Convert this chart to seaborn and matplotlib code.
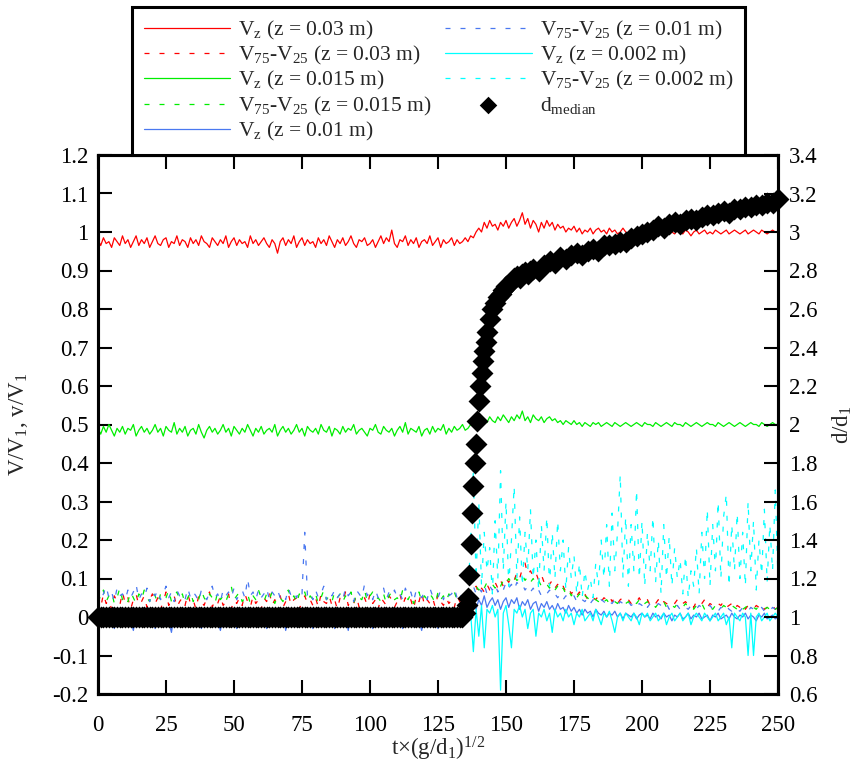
import numpy as np
import pandas as pd
import matplotlib
matplotlib.use("Agg")
import matplotlib.pyplot as plt
import seaborn as sns

# Zeitachse t*(g/d1)^1/2, 1er-Schritte
t_all = np.arange(0, 251, 1)
# cyan erst ab dem Sprung (t = 136)
t_cyan = np.arange(136, 251, 1)

# V_z (z = 0.03 m)
vz_003 = [
    0.98, 0.965, 0.985, 0.97, 0.975, 0.96, 0.985, 0.975, 0.965, 0.99,
    0.97, 0.98, 0.96, 0.975, 0.99, 0.965, 0.98, 0.97, 0.985, 0.96,
    0.975, 0.99, 0.97, 0.965, 0.98, 0.985, 0.96, 0.975, 0.97, 0.99,
    0.965, 0.98, 0.975, 0.96, 0.985, 0.97, 0.98, 0.965, 0.99, 0.975,
    0.97, 0.96, 0.985, 0.975, 0.965, 0.98, 0.97, 0.99, 0.96, 0.975,
    0.985, 0.965, 0.98, 0.97, 0.975, 0.96, 0.99, 0.97, 0.98, 0.965,
    0.975, 0.985, 0.97, 0.96, 0.98, 0.97, 0.945, 0.975, 0.985, 0.965,
    0.98, 0.97, 0.99, 0.96, 0.975, 0.985, 0.965, 0.98, 0.97, 0.975,
    0.96, 0.985, 0.97, 0.98, 0.965, 0.99, 0.975, 0.96, 0.98, 0.97,
    0.985, 0.965, 0.975, 0.99, 0.97, 0.96, 0.98, 0.975, 0.985, 0.965,
    0.97, 0.98, 0.96, 0.975, 0.99, 0.97, 0.985, 0.975, 1.005, 0.97,
    0.96, 0.98, 0.975, 0.99, 0.965, 0.98, 0.97, 0.985, 0.96, 0.975,
    0.98, 0.97, 0.99, 0.965, 0.975, 0.985, 0.96, 0.98, 0.97, 0.975,
    0.985, 0.965, 0.98, 0.97, 0.975, 0.985,
    0.975, 0.99, 0.985, 1.0, 1.01, 1.0, 1.025, 1.01, 1.03, 1.015,
    1.02, 1.005, 1.025, 1.015, 1.03, 1.01, 1.025, 1.035, 1.015, 1.03,
    1.05, 1.02, 1.035, 1.01, 1.03, 1.02, 1.0, 1.025, 1.01, 1.03,
    1.015, 1.025, 1.005, 1.02, 1.01, 1.015, 1.0, 1.01, 1.005, 1.015,
    1.0, 1.01, 0.995, 1.005, 1.0, 1.01, 0.995, 1.005, 1.01, 1.0,
    1.005, 0.995, 1.01, 1.0, 1.005, 0.995, 1.0, 1.01, 1.0, 0.995,
    1.005, 1.0, 0.995, 1.005, 1.0, 1.005, 0.995, 1.0, 1.005, 0.995,
    1.0, 1.005, 0.995, 1.0, 1.005, 1.0, 0.995, 1.005, 1.0, 0.995,
    1.005, 1.0, 0.99, 1.0, 1.005, 0.995, 1.0, 1.005, 0.995, 1.0,
    0.995, 1.005, 1.0, 0.995, 1.0, 1.005, 0.995, 1.0, 1.005, 1.0,
    0.995, 1.0, 1.005, 0.995, 1.0, 1.005, 1.0, 0.995, 1.005, 1.0,
    0.995, 1.0, 1.005, 1.0, 1.0,
]
# V75-V25 (z = 0.03 m)
iqr_003 = [
    0.05, 0.025, 0.06, 0.035, 0.045, 0.02, 0.055, 0.04, 0.03, 0.065,
    0.035, 0.05, 0.02, 0.045, 0.06, 0.03, 0.04, 0.055, 0.025, 0.045,
    0.06, 0.035, 0.05, 0.02, 0.04, 0.065, 0.03, 0.045, 0.055, 0.025,
    0.04, 0.05, 0.03, 0.06, 0.035, 0.045, 0.02, 0.055, 0.04, 0.03,
    0.05, 0.065, 0.025, 0.045, 0.035, 0.055, 0.03, 0.04, 0.06, 0.02,
    0.045, 0.035, 0.05, 0.03, 0.06, 0.04, 0.025, 0.055, 0.035, 0.045,
    0.02, 0.05, 0.04, 0.065, 0.03, 0.045, 0.035, 0.055, 0.025, 0.04,
    0.06, 0.03, 0.045, 0.05, 0.02, 0.04, 0.055, 0.035, 0.045, 0.03,
    0.05, 0.025, 0.06, 0.04, 0.035, 0.055, 0.03, 0.045, 0.02, 0.05,
    0.04, 0.065, 0.03, 0.045, 0.035, 0.055, 0.025, 0.04, 0.05, 0.03,
    0.06, 0.035, 0.045, 0.02, 0.05, 0.04, 0.03, 0.055, 0.045, 0.025,
    0.04, 0.06, 0.03, 0.05, 0.035, 0.045, 0.02, 0.055, 0.04, 0.065,
    0.03, 0.045, 0.035, 0.05, 0.025, 0.06, 0.04, 0.03, 0.05, 0.035,
    0.045, 0.025, 0.055, 0.04, 0.05, 0.035,
    0.05, 0.07, 0.055, 0.08, 0.06, 0.075, 0.065, 0.085, 0.07, 0.08,
    0.09, 0.075, 0.095, 0.08, 0.1, 0.09, 0.105, 0.095, 0.115, 0.1,
    0.125, 0.14, 0.11, 0.12, 0.105, 0.115, 0.095, 0.11, 0.09, 0.1,
    0.085, 0.095, 0.075, 0.085, 0.07, 0.08, 0.065, 0.075, 0.06, 0.07,
    0.055, 0.065, 0.05, 0.06, 0.045, 0.055, 0.05, 0.045, 0.055, 0.04,
    0.05, 0.045, 0.055, 0.04, 0.05, 0.035, 0.045, 0.05, 0.04, 0.045,
    0.035, 0.045, 0.04, 0.05, 0.035, 0.04, 0.045, 0.03, 0.04, 0.035,
    0.045, 0.03, 0.04, 0.035, 0.03, 0.04, 0.035, 0.045, 0.03, 0.035,
    0.04, 0.03, 0.035, 0.025, 0.04, 0.03, 0.035, 0.045, 0.025, 0.035,
    0.03, 0.025, 0.035, 0.03, 0.04, 0.025, 0.03, 0.035, 0.02, 0.03,
    0.025, 0.035, 0.02, 0.03, 0.025, 0.02, 0.03, 0.025, 0.035, 0.02,
    0.025, 0.02, 0.03, 0.02, 0.025,
]
# V_z (z = 0.015 m)
vz_0015 = [
    0.49, 0.475, 0.495, 0.48, 0.5, 0.485, 0.47, 0.49, 0.48, 0.495,
    0.475, 0.49, 0.485, 0.5, 0.47, 0.485, 0.495, 0.48, 0.49, 0.475,
    0.485, 0.5, 0.48, 0.49, 0.47, 0.495, 0.485, 0.48, 0.505, 0.475,
    0.49, 0.48, 0.495, 0.47, 0.485, 0.49, 0.475, 0.5, 0.48, 0.465,
    0.485, 0.495, 0.48, 0.49, 0.475, 0.485, 0.5, 0.48, 0.49, 0.47,
    0.495, 0.485, 0.475, 0.49, 0.48, 0.5, 0.485, 0.47, 0.49, 0.48,
    0.495, 0.475, 0.485, 0.49, 0.48, 0.5, 0.47, 0.485, 0.495, 0.48,
    0.49, 0.475, 0.485, 0.5, 0.48, 0.49, 0.47, 0.495, 0.485, 0.48,
    0.49, 0.475, 0.5, 0.485, 0.48, 0.495, 0.47, 0.49, 0.485, 0.475,
    0.495, 0.48, 0.49, 0.485, 0.5, 0.475, 0.485, 0.49, 0.48, 0.47,
    0.49, 0.485, 0.5, 0.48, 0.475, 0.495, 0.485, 0.48, 0.49, 0.47,
    0.485, 0.495, 0.48, 0.505, 0.475, 0.49, 0.485, 0.48, 0.495, 0.47,
    0.485, 0.49, 0.475, 0.495, 0.48, 0.49, 0.485, 0.5, 0.475, 0.49,
    0.48, 0.495, 0.485, 0.49, 0.5, 0.485,
    0.49, 0.5, 0.505, 0.495, 0.51, 0.5, 0.515, 0.505, 0.52, 0.51,
    0.505, 0.52, 0.51, 0.525, 0.515, 0.505, 0.52, 0.51, 0.525, 0.515,
    0.535, 0.51, 0.52, 0.505, 0.525, 0.515, 0.51, 0.52, 0.505, 0.515,
    0.52, 0.51, 0.515, 0.505, 0.51, 0.5, 0.51, 0.505, 0.5, 0.51,
    0.5, 0.505, 0.495, 0.505, 0.5, 0.495, 0.505, 0.5, 0.505, 0.495,
    0.5, 0.505, 0.5, 0.495, 0.505, 0.5, 0.495, 0.5, 0.505, 0.5,
    0.495, 0.5, 0.505, 0.5, 0.495, 0.505, 0.5, 0.5, 0.495, 0.505,
    0.5, 0.495, 0.5, 0.505, 0.5, 0.495, 0.505, 0.5, 0.5, 0.495,
    0.505, 0.5, 0.495, 0.5, 0.505, 0.5, 0.495, 0.5, 0.505, 0.5,
    0.5, 0.495, 0.505, 0.5, 0.495, 0.5, 0.505, 0.5, 0.495, 0.5,
    0.505, 0.5, 0.495, 0.5, 0.505, 0.5, 0.5, 0.495, 0.505, 0.5,
    0.495, 0.5, 0.505, 0.5, 0.5,
]
# V75-V25 (z = 0.015 m)
iqr_0015 = [
    0.06, 0.045, 0.07, 0.04, 0.055, 0.065, 0.035, 0.05, 0.075, 0.045,
    0.055, 0.04, 0.065, 0.05, 0.035, 0.06, 0.045, 0.07, 0.05, 0.04,
    0.065, 0.055, 0.035, 0.06, 0.045, 0.05, 0.07, 0.04, 0.055, 0.065,
    0.045, 0.06, 0.035, 0.05, 0.065, 0.04, 0.055, 0.045, 0.07, 0.05,
    0.04, 0.06, 0.05, 0.035, 0.065, 0.045, 0.055, 0.04, 0.06, 0.08,
    0.045, 0.055, 0.065, 0.04, 0.05, 0.06, 0.035, 0.055, 0.045, 0.07,
    0.05, 0.04, 0.06, 0.045, 0.065, 0.035, 0.055, 0.05, 0.04, 0.06,
    0.07, 0.045, 0.055, 0.035, 0.06, 0.05, 0.065, 0.04, 0.055, 0.045,
    0.06, 0.035, 0.05, 0.07, 0.045, 0.055, 0.04, 0.065, 0.05, 0.06,
    0.04, 0.055, 0.045, 0.065, 0.035, 0.06, 0.05, 0.045, 0.07, 0.04,
    0.055, 0.065, 0.045, 0.05, 0.04, 0.06, 0.035, 0.055, 0.065, 0.045,
    0.05, 0.04, 0.07, 0.055, 0.045, 0.06, 0.035, 0.05, 0.065, 0.04,
    0.055, 0.045, 0.06, 0.05, 0.035, 0.065, 0.045, 0.055, 0.04, 0.06,
    0.05, 0.065, 0.045, 0.055, 0.04, 0.06,
    0.06, 0.07, 0.065, 0.08, 0.07, 0.085, 0.075, 0.09, 0.08, 0.085,
    0.075, 0.09, 0.08, 0.095, 0.085, 0.1, 0.09, 0.105, 0.095, 0.1,
    0.11, 0.095, 0.105, 0.09, 0.1, 0.085, 0.095, 0.08, 0.09, 0.085,
    0.075, 0.085, 0.07, 0.08, 0.065, 0.075, 0.06, 0.07, 0.055, 0.065,
    0.05, 0.06, 0.045, 0.055, 0.05, 0.04, 0.05, 0.045, 0.04, 0.05,
    0.04, 0.045, 0.035, 0.045, 0.04, 0.035, 0.045, 0.04, 0.035, 0.04,
    0.03, 0.04, 0.035, 0.045, 0.03, 0.035, 0.04, 0.03, 0.035, 0.025,
    0.035, 0.03, 0.04, 0.025, 0.035, 0.03, 0.025, 0.035, 0.03, 0.025,
    0.035, 0.025, 0.03, 0.02, 0.03, 0.025, 0.035, 0.02, 0.03, 0.025,
    0.02, 0.03, 0.025, 0.02, 0.03, 0.025, 0.02, 0.03, 0.025, 0.02,
    0.03, 0.02, 0.025, 0.03, 0.02, 0.025, 0.02, 0.03, 0.025, 0.02,
    0.025, 0.02, 0.03, 0.02, 0.025,
]
# V_z (z = 0.01 m)
vz_001 = [
    0.0, -0.02, 0.01, -0.025, 0.005, -0.01, -0.03, 0.01, -0.015, 0.0,
    -0.02, 0.015, -0.01, -0.035, 0.005, -0.015, 0.01, -0.025, 0.0, -0.01,
    0.01, -0.03, -0.005, 0.015, -0.02, 0.0, -0.01, -0.04, 0.005, -0.015,
    0.01, -0.025, 0.0, -0.01, 0.015, -0.02, -0.005, 0.01, -0.03, 0.0,
    -0.015, 0.005, -0.025, 0.01, -0.01, -0.035, 0.0, 0.015, -0.02, -0.005,
    0.01, -0.03, 0.0, -0.015, 0.005, -0.02, 0.01, -0.01, -0.025, 0.005,
    -0.015, 0.01, -0.03, 0.0, -0.01, 0.015, -0.02, -0.005, 0.01, -0.035,
    0.0, -0.015, 0.01, -0.025, 0.005, -0.01, -0.02, 0.01, -0.005, -0.03,
    0.005, -0.015, 0.01, -0.025, 0.0, -0.01, 0.015, -0.03, -0.005, 0.01,
    -0.02, 0.0, -0.035, 0.005, -0.01, 0.01, -0.025, -0.005, 0.015, -0.02,
    0.0, -0.03, 0.01, -0.015, 0.005, -0.025, -0.005, 0.01, -0.02, 0.0,
    -0.01, 0.015, -0.03, 0.0, -0.015, 0.01, -0.025, 0.005, -0.01, -0.035,
    0.005, -0.015, 0.01, -0.02, 0.0, -0.03, 0.01, -0.01, 0.005, -0.025,
    0.0, -0.015, 0.01, -0.02, 0.0, -0.01,
    0.01, 0.03, 0.05, 0.02, 0.045, 0.03, 0.055, 0.025, 0.04, 0.05,
    0.03, 0.045, 0.02, 0.04, 0.05, 0.025, 0.045, 0.035, 0.05, 0.02,
    0.04, 0.03, 0.045, 0.02, 0.035, 0.04, 0.015, 0.035, 0.025, 0.04,
    0.02, 0.03, 0.015, 0.035, 0.02, 0.025, 0.01, 0.03, 0.015, 0.025,
    0.01, 0.02, 0.005, 0.02, 0.01, 0.015, 0.0, 0.02, 0.01, 0.005,
    0.015, 0.0, 0.01, 0.005, 0.015, 0.0, 0.01, -0.005, 0.01, 0.005,
    0.0, 0.01, -0.005, 0.005, 0.01, 0.0, 0.005, -0.005, 0.01, 0.0,
    0.005, -0.005, 0.01, 0.0, 0.005, -0.01, 0.005, 0.0, 0.01, -0.005,
    0.0, 0.01, -0.005, 0.005, 0.0, 0.01, -0.005, 0.0, 0.005, -0.01,
    0.005, 0.0, 0.01, -0.005, 0.0, 0.005, -0.005, 0.01, 0.0, -0.005,
    0.005, 0.0, 0.01, -0.005, 0.005, 0.0, -0.01, 0.005, 0.0, 0.01,
    -0.005, 0.0, 0.005, -0.005, 0.0,
]
# V75-V25 (z = 0.01 m)
iqr_001 = [
    0.07, 0.045, 0.06, 0.08, 0.05, 0.065, 0.04, 0.075, 0.055, 0.06,
    0.045, 0.07, 0.05, 0.065, 0.085, 0.045, 0.06, 0.05, 0.075, 0.04,
    0.065, 0.055, 0.07, 0.045, 0.06, 0.08, 0.05, 0.065, 0.04, 0.07,
    0.055, 0.06, 0.045, 0.075, 0.05, 0.065, 0.055, 0.04, 0.07, 0.06,
    0.045, 0.065, 0.08, 0.05, 0.06, 0.04, 0.07, 0.055, 0.065, 0.05,
    0.075, 0.045, 0.06, 0.07, 0.05, 0.1, 0.055, 0.065, 0.045, 0.07,
    0.05, 0.06, 0.075, 0.045, 0.065, 0.055, 0.07, 0.05, 0.06, 0.045,
    0.075, 0.055, 0.065, 0.05, 0.07, 0.06, 0.22, 0.055, 0.065, 0.045,
    0.07, 0.05, 0.06, 0.08, 0.045, 0.065, 0.055, 0.07, 0.05, 0.06,
    0.045, 0.075, 0.055, 0.065, 0.04, 0.07, 0.06, 0.05, 0.085, 0.055,
    0.065, 0.045, 0.07, 0.05, 0.06, 0.075, 0.045, 0.065, 0.055, 0.07,
    0.05, 0.06, 0.045, 0.075, 0.055, 0.065, 0.04, 0.07, 0.06, 0.05,
    0.065, 0.045, 0.075, 0.055, 0.06, 0.05, 0.07, 0.045, 0.065, 0.055,
    0.06, 0.075, 0.05, 0.065, 0.045, 0.06,
    0.05, 0.065, 0.08, 0.06, 0.075, 0.065, 0.085, 0.06, 0.08, 0.07,
    0.085, 0.065, 0.08, 0.07, 0.09, 0.075, 0.085, 0.07, 0.09, 0.08,
    0.085, 0.07, 0.08, 0.065, 0.075, 0.06, 0.07, 0.055, 0.065, 0.06,
    0.07, 0.055, 0.06, 0.05, 0.06, 0.045, 0.055, 0.05, 0.045, 0.055,
    0.04, 0.05, 0.045, 0.04, 0.05, 0.035, 0.045, 0.04, 0.035, 0.045,
    0.04, 0.03, 0.04, 0.035, 0.045, 0.03, 0.04, 0.035, 0.03, 0.04,
    0.03, 0.035, 0.025, 0.035, 0.03, 0.04, 0.025, 0.035, 0.03, 0.025,
    0.035, 0.03, 0.025, 0.035, 0.02, 0.03, 0.025, 0.03, 0.02, 0.03,
    0.025, 0.02, 0.03, 0.025, 0.02, 0.03, 0.025, 0.02, 0.025, 0.03,
    0.02, 0.025, 0.015, 0.025, 0.02, 0.03, 0.02, 0.015, 0.025, 0.02,
    0.015, 0.025, 0.02, 0.015, 0.025, 0.02, 0.015, 0.02, 0.025, 0.015,
    0.02, 0.015, 0.025, 0.02, 0.015,
]
# V_z (z = 0.002 m), ab t = 136
vz_0002 = [
    0.0, 0.01, -0.09, 0.02, -0.05, 0.03, -0.08, 0.02, 0.01, 0.03,
    0.0, 0.02, -0.19, 0.01, 0.03, -0.02, -0.08, 0.02, 0.01, 0.03,
    0.0, 0.02, -0.03, 0.01, 0.02, -0.05, 0.01, 0.0, 0.02, -0.01,
    0.01, -0.04, 0.02, 0.0, 0.01, -0.01, 0.02, 0.0, 0.01, -0.02,
    0.01, 0.0, 0.02, -0.01, 0.0, 0.01, -0.01, 0.02, 0.0, -0.02,
    0.01, 0.0, 0.015, -0.01, -0.04, 0.0, 0.01, -0.01, 0.01, 0.0,
    -0.01, 0.01, 0.0, -0.02, 0.01, 0.0, 0.01, -0.01, 0.0, 0.01,
    -0.01, 0.0, 0.01, -0.02, 0.0, 0.01, -0.01, 0.0, 0.01, -0.01,
    0.0, 0.01, -0.02, 0.0, 0.01, 0.0, -0.01, 0.01, 0.0, -0.01,
    0.0, 0.01, -0.01, 0.0, 0.01, -0.02, 0.0, -0.08, 0.01, 0.0,
    -0.01, 0.01, 0.0, -0.1, 0.01, -0.1, 0.0, 0.01, -0.01, 0.0,
    0.01, -0.01, 0.0, 0.01, 0.0,
]
# V75-V25 (z = 0.002 m), ab t = 136
iqr_0002 = [
    0.05, 0.2, 0.38, 0.1, 0.3, 0.08, 0.22, 0.12, 0.18, 0.06,
    0.25, 0.1, 0.38, 0.12, 0.3, 0.08, 0.2, 0.34, 0.1, 0.26,
    0.08, 0.22, 0.12, 0.28, 0.1, 0.2, 0.07, 0.24, 0.12, 0.26,
    0.08, 0.22, 0.1, 0.25, 0.12, 0.2, 0.07, 0.18, 0.1, 0.16,
    0.06, 0.14, 0.05, 0.12, 0.07, 0.1, 0.05, 0.14, 0.08, 0.2,
    0.1, 0.24, 0.08, 0.27, 0.12, 0.22, 0.37, 0.1, 0.26, 0.08,
    0.24, 0.12, 0.33, 0.1, 0.25, 0.08, 0.22, 0.12, 0.26, 0.09,
    0.2, 0.06, 0.24, 0.1, 0.21, 0.08, 0.18, 0.1, 0.15, 0.06,
    0.16, 0.05, 0.12, 0.08, 0.18, 0.06, 0.22, 0.1, 0.28, 0.08,
    0.24, 0.12, 0.3, 0.1, 0.26, 0.32, 0.08, 0.24, 0.12, 0.27,
    0.1, 0.22, 0.08, 0.3, 0.12, 0.25, 0.07, 0.2, 0.11, 0.28,
    0.09, 0.24, 0.12, 0.33, 0.1,
]

# d_median / d1 (rechte Achse): vor dem Sprung jede Zeiteinheit, danach feiner / 2er
d_t = [
    0, 1, 2, 3, 4, 5, 6, 7, 8, 9, 10, 11, 12, 13, 14, 15, 16, 17, 18, 19,
    20, 21, 22, 23, 24, 25, 26, 27, 28, 29, 30, 31, 32, 33, 34, 35, 36, 37,
    38, 39, 40, 41, 42, 43, 44, 45, 46, 47, 48, 49, 50, 51, 52, 53, 54, 55,
    56, 57, 58, 59, 60, 61, 62, 63, 64, 65, 66, 67, 68, 69, 70, 71, 72, 73,
    74, 75, 76, 77, 78, 79, 80, 81, 82, 83, 84, 85, 86, 87, 88, 89, 90, 91,
    92, 93, 94, 95, 96, 97, 98, 99, 100, 101, 102, 103, 104, 105, 106, 107,
    108, 109, 110, 111, 112, 113, 114, 115, 116, 117, 118, 119, 120, 121,
    122, 123, 124, 125, 126, 127, 128, 129, 130, 131, 132, 133, 134,
    135, 135.5, 136, 136.5, 137, 137.5, 138, 138.5, 139, 139.5, 140,
    140.5, 141, 141.5, 142, 142.5, 143, 144, 145, 146, 147, 148, 149, 150,
    151, 152, 153, 154, 155, 156, 157, 158, 159, 160,
    162, 164, 166, 168, 170, 172, 174, 176, 178,
    180, 182, 184, 186, 188, 190, 192, 194, 196, 198, 200, 202, 204, 206,
    208, 210, 212, 214, 216, 218, 220, 222, 224, 226, 228, 230, 232, 234,
    236, 238, 240, 242, 244, 246, 248, 250,
]
d_med = [
    1.0, 1.0, 1.0, 1.0, 1.0, 1.0, 1.0, 1.0, 1.0, 1.0, 1.0, 1.0, 1.0, 1.0,
    1.0, 1.0, 1.0, 1.0, 1.0, 1.0, 1.0, 1.0, 1.0, 1.0, 1.0, 1.0, 1.0, 1.0,
    1.0, 1.0, 1.0, 1.0, 1.0, 1.0, 1.0, 1.0, 1.0, 1.0, 1.0, 1.0, 1.0, 1.0,
    1.0, 1.0, 1.0, 1.0, 1.0, 1.0, 1.0, 1.0, 1.0, 1.0, 1.0, 1.0, 1.0, 1.0,
    1.0, 1.0, 1.0, 1.0, 1.0, 1.0, 1.0, 1.0, 1.0, 1.0, 1.0, 1.0, 1.0, 1.0,
    1.0, 1.0, 1.0, 1.0, 1.0, 1.0, 1.0, 1.0, 1.0, 1.0, 1.0, 1.0, 1.0, 1.0,
    1.0, 1.0, 1.0, 1.0, 1.0, 1.0, 1.0, 1.0, 1.0, 1.0, 1.0, 1.0, 1.0, 1.0,
    1.0, 1.0, 1.0, 1.0, 1.0, 1.0, 1.0, 1.0, 1.0, 1.0, 1.0, 1.0, 1.0, 1.0,
    1.0, 1.0, 1.0, 1.0, 1.0, 1.0, 1.0, 1.0, 1.0, 1.0, 1.0, 1.0, 1.0, 1.0,
    1.0, 1.0, 1.0, 1.0, 1.0, 1.0, 1.0, 1.0, 1.0,
    1.02, 1.06, 1.10, 1.22, 1.38, 1.54, 1.68, 1.80, 1.90, 2.02, 2.12,
    2.20, 2.27, 2.33, 2.38, 2.43, 2.48, 2.55, 2.60, 2.63, 2.66, 2.68, 2.70, 2.72,
    2.73, 2.74, 2.76, 2.77, 2.76, 2.78, 2.79, 2.78, 2.80, 2.81,
    2.80, 2.83, 2.85, 2.84, 2.87, 2.86, 2.88, 2.89, 2.88,
    2.90, 2.91, 2.90, 2.93, 2.93, 2.94, 2.95, 2.95, 2.97, 2.98,
    2.99, 3.00, 3.01, 3.03, 3.02, 3.04, 3.05, 3.04, 3.06, 3.07, 3.06, 3.08,
    3.09, 3.09, 3.10, 3.11, 3.10, 3.12, 3.12, 3.13, 3.13, 3.14, 3.14, 3.15,
    3.15, 3.17,
]

x_ticks = [0, 25, 50, 75, 100, 125, 150, 175, 200, 225, 250]
y_ticks = [-0.2, -0.1, 0, 0.1, 0.2, 0.3, 0.4, 0.5, 0.6, 0.7, 0.8, 0.9, 1.0, 1.1, 1.2]
y_labels = ["-0.2", "-0.1", "0", "0.1", "0.2", "0.3", "0.4", "0.5", "0.6",
            "0.7", "0.8", "0.9", "1", "1.1", "1.2"]
y2_ticks = [0.6, 0.8, 1.0, 1.2, 1.4, 1.6, 1.8, 2.0, 2.2, 2.4, 2.6, 2.8, 3.0, 3.2, 3.4]
y2_labels = ["0.6", "0.8", "1", "1.2", "1.4", "1.6", "1.8", "2", "2.2", "2.4",
             "2.6", "2.8", "3", "3.2", "3.4"]

df_main = pd.DataFrame({"t": t_all, "vz_003": vz_003, "iqr_003": iqr_003,
                        "vz_0015": vz_0015, "iqr_0015": iqr_0015,
                        "vz_001": vz_001, "iqr_001": iqr_001})
df_cyan = pd.DataFrame({"t": t_cyan, "vz_0002": vz_0002, "iqr_0002": iqr_0002})
df_d = pd.DataFrame({"t": d_t, "d": d_med})

sns.set_style("ticks")
plt.rcParams["font.family"] = ["Liberation Serif", "DejaVu Serif"]
plt.rcParams["mathtext.fontset"] = "custom"
plt.rcParams["mathtext.rm"] = "Liberation Serif"
plt.rcParams["mathtext.it"] = "Liberation Serif:italic"
plt.rcParams["mathtext.default"] = "rm"
plt.rcParams["axes.unicode_minus"] = False
plt.rcParams["lines.scale_dashes"] = False

red = "#ff0000"
green = "#00ee00"
blue = "#4a78f0"
cyan = "#00ffff"
dash = (0, (3.6, 7.2))
lw = 0.9

fig = plt.figure(figsize=(8.61, 7.65), dpi=100)
ax = fig.add_axes([98 / 861, 71 / 765, 680 / 861, 539 / 765])
ax2 = ax.twinx()

sns.lineplot(data=df_main, x="t", y="vz_003", ax=ax, color=red, lw=lw,
             label="V$_z$ (z = 0.03 m)", legend=False)
sns.lineplot(data=df_main, x="t", y="iqr_003", ax=ax, color=red, lw=lw, linestyle=dash,
             label="V$_{75}$-V$_{25}$ (z = 0.03 m)", legend=False)
sns.lineplot(data=df_main, x="t", y="vz_0015", ax=ax, color=green, lw=lw,
             label="V$_z$ (z = 0.015 m)", legend=False)
sns.lineplot(data=df_main, x="t", y="iqr_0015", ax=ax, color=green, lw=lw, linestyle=dash,
             label="V$_{75}$-V$_{25}$ (z = 0.015 m)", legend=False)
sns.lineplot(data=df_main, x="t", y="vz_001", ax=ax, color=blue, lw=lw,
             label="V$_z$ (z = 0.01 m)", legend=False)
sns.lineplot(data=df_main, x="t", y="iqr_001", ax=ax, color=blue, lw=lw, linestyle=dash,
             label="V$_{75}$-V$_{25}$ (z = 0.01 m)", legend=False)
sns.lineplot(data=df_cyan, x="t", y="vz_0002", ax=ax, color=cyan, lw=lw,
             label="V$_z$ (z = 0.002 m)", legend=False)
sns.lineplot(data=df_cyan, x="t", y="iqr_0002", ax=ax, color=cyan, lw=lw, linestyle=dash,
             label="V$_{75}$-V$_{25}$ (z = 0.002 m)", legend=False)

sns.scatterplot(data=df_d, x="t", y="d", ax=ax2, marker="D", s=125, color="black",
                linewidth=0, label="d$_{median}$", legend=False, clip_on=False, zorder=5)

ax.set_xlim(0, 250)
ax.set_ylim(-0.2, 1.2)
ax2.set_ylim(0.6, 3.4)
ax.set_xticks(x_ticks)
ax.set_xticklabels([str(v) for v in x_ticks])
ax.set_yticks(y_ticks)
ax.set_yticklabels(y_labels)
ax2.set_yticks(y2_ticks)
ax2.set_yticklabels(y2_labels)

ax.tick_params(axis="both", direction="in", length=10, width=1.5, labelsize=16.5,
               colors="black")
ax.tick_params(axis="x", top=True, pad=15)
ax.tick_params(axis="y", right=False, pad=7)
ax2.tick_params(axis="y", direction="in", length=10, width=1.5, labelsize=16.5, pad=8,
                colors="black")

for a in (ax, ax2):
    for sp in a.spines.values():
        sp.set_linewidth(2.2)
        sp.set_color("black")

ax.set_xlabel("t×(g/d$_1$)$^{1/2}$", fontsize=16.5)
ax.set_ylabel("V/V$_1$, v/V$_1$", fontsize=16.5)
ax2.set_ylabel("d/d$_1$", fontsize=16.5)
ax.xaxis.set_label_coords(0.5, -0.075)
ax.yaxis.set_label_coords(-0.1, 0.5)
ax2.yaxis.set_label_coords(1.078, 0.5)

h1, l1 = ax.get_legend_handles_labels()
h2, l2 = ax2.get_legend_handles_labels()
leg = ax2.legend(h1 + h2, l1 + l2, loc="lower left",
                 bbox_to_anchor=(0.05, 1.0, 0.901, 0.27), mode="expand",
                 borderaxespad=0, ncol=2, fontsize=15.5, handlelength=4.0,
                 handletextpad=0.37, columnspacing=0.6, labelspacing=0.11,
                 borderpad=0.55, frameon=True, fancybox=False, framealpha=1,
                 edgecolor="black", markerscale=0.8)
leg.get_frame().set_linewidth(2.2)

fig.savefig("out.png", dpi=100)
plt.close("all")
